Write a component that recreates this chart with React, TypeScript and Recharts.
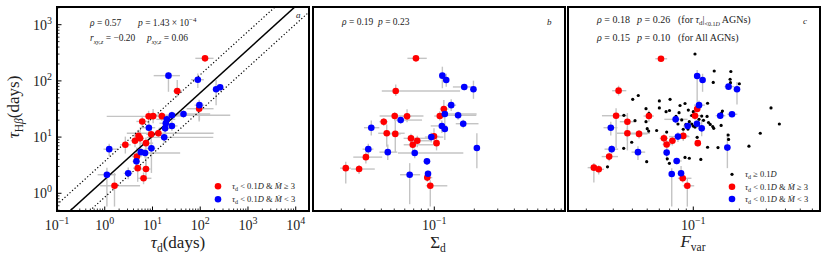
import React from "react";
import { ScatterChart, Scatter, XAxis, YAxis, ErrorBar } from "recharts";

const SERIF = "'Liberation Serif', 'DejaVu Serif', serif";
const RED = "#ff0000";
const BLUE = "#0000ff";
const ERR = "#c4c4c4";

// rows: [x, y, xLow, xHigh, yLow, yHigh]
const tauRed = [
  [126, 252, 47, 64, 20, 20],
  [33, 66, 6, 8, 14, 38],
  [95, 32, 43, 95, 13, 14],
  [6.1, 19, 1.5, 1.5, 4, 4],
  [8.3, 23.4, 7.2, 10, 5, 6],
  [10.3, 23.6, 2, 2, 6, 8],
  [15.7, 23.6, 6, 30, 4, 4],
  [9.4, 11.2, 2, 2, 6.7, 4],
  [13.3, 11.7, 10.4, 177, 2, 2],
  [2.7, 7.3, 0.6, 0.8, 2.2, 2.9],
  [4.3, 8.6, 0.8, 1, 2, 3],
  [5.1, 10.5, 1, 1.2, 2, 3],
  [5.5, 9.5, 1, 1.2, 3, 4],
  [7.3, 7.8, 2, 3, 5.2, 2],
  [4.7, 4.5, 1, 1, 1.5, 2],
  [4.9, 2.8, 1, 1, 1.2, 1.5],
  [7.3, 2.7, 1.5, 1.8, 0.8, 1],
  [6.5, 1.85, 1.5, 3, 0.4, 0.5],
  [1.6, 1.36, 0.8, 3.9, 0.78, 0.94],
];

const tauBlue = [
  [21.6, 124, 11, 16, 60, 20],
  [89, 105, 25, 30, 30, 30],
  [215, 71, 30, 40, 34, 33],
  [261, 77, 30, 40, 10, 10],
  [96, 37, 20, 25, 17, 6],
  [44.6, 25.8, 18, 117, 4, 4],
  [25.5, 24.4, 18, 400, 4, 4],
  [20, 20.7, 8, 10, 4, 4],
  [19, 17.6, 5, 6, 4, 5],
  [18.4, 14.3, 5, 6, 3, 4],
  [25.5, 15.8, 6, 8, 3, 4],
  [8.4, 14.7, 3, 3, 4, 5],
  [17.6, 9.9, 10, 170, 2, 2],
  [1.24, 6.1, 0.3, 0.6, 1.5, 1.5],
  [9.5, 6.3, 2, 2, 4, 1.5],
  [5.7, 5.4, 1, 1, 1, 1],
  [7.0, 5.2, 0.6, 31, 1, 1],
  [4.6, 3.7, 0.8, 0.8, 1, 1],
  [3.1, 2.27, 0.6, 0.7, 0.5, 0.6],
  [1.11, 2.14, 0.4, 0.6, 1.56, 0.7],
];

const sigmaRed = [
  [0.0728, 252, 0.01, 0.015, 20, 20],
  [0.0513, 66, 0.011, 0.105, 12, 20],
  [0.118, 31.6, 0.008, 0.01, 10, 14],
  [0.11, 23.7, 0.01, 0.01, 4, 5],
  [0.0504, 23.7, 0.0116, 0.0325, 4, 4],
  [0.0624, 23.4, 0.005, 0.005, 5, 8],
  [0.0417, 18.8, 0.003, 0.003, 3, 3],
  [0.0439, 11.7, 0.006, 0.016, 5, 5],
  [0.0509, 11.4, 0.005, 0.005, 6, 8],
  [0.0668, 9.5, 0.008, 0.03, 2, 2],
  [0.0745, 8.6, 0.01, 0.02, 2, 2],
  [0.0689, 7.3, 0.01, 0.03, 2, 2],
  [0.0995, 10.3, 0.005, 0.01, 3, 4],
  [0.104, 7.8, 0.005, 0.005, 2, 2],
  [0.0306, 4.4, 0.006, 0.01, 1, 1],
  [0.0216, 2.8, 0.002, 0.002, 1.3, 0.85],
  [0.0272, 2.7, 0.0035, 0.0085, 0.5, 0.5],
  [0.0886, 1.9, 0.004, 0.008, 0.3, 0.3],
  [0.0933, 1.36, 0.007, 0.032, 0.78, 0.34],
];

const sigmaBlue = [
  [0.115, 124, 0.005, 0.005, 50, 55],
  [0.123, 104, 0.005, 0.005, 25, 30],
  [0.168, 78, 0.03, 0.03, 10, 10],
  [0.197, 71, 0.008, 0.008, 23, 30],
  [0.134, 37, 0.01, 0.012, 8, 10],
  [0.12, 25.8, 0.0118, 0.088, 4, 4],
  [0.151, 24.4, 0.03, 0.056, 4, 4],
  [0.0559, 20.1, 0.006, 0.025, 3, 3],
  [0.165, 17.3, 0.02, 0.05, 3, 3],
  [0.0336, 14.7, 0.004, 0.005, 4, 5],
  [0.114, 15.8, 0.02, 0.01, 4, 4],
  [0.12, 13.9, 0.005, 0.005, 5, 8],
  [0.0949, 10.0, 0.01, 0.022, 2, 2],
  [0.0319, 6.1, 0.003, 0.003, 1.5, 1.5],
  [0.0447, 5.4, 0.006, 0.008, 1.5, 2],
  [0.0713, 5.2, 0.018, 0.094, 1, 1],
  [0.209, 6.4, 0.01, 0.01, 3.6, 5.3],
  [0.0881, 3.7, 0.005, 0.005, 0.5, 0.5],
  [0.0653, 2.14, 0.01, 0.013, 1.5, 1.3],
  [0.0897, 2.23, 0.004, 0.004, 0.3, 0.3],
];

const fvarRed = [
  [0.0615, 248, 0.005, 0.006, 20, 20],
  [0.0325, 67, 0.003, 0.004, 12, 15],
  [0.0313, 24, 0.006, 0.006, 17.7, 8.6],
  [0.0371, 18.8, 0.004, 0.004, 13, 8],
  [0.0371, 11.7, 0.0055, 0.015, 3, 3],
  [0.0442, 11.4, 0.006, 0.006, 2, 2],
  [0.0513, 23.7, 0.004, 0.004, 5, 6],
  [0.0643, 9.5, 0.004, 0.004, 2, 2],
  [0.067, 7.4, 0.004, 0.005, 1.5, 1.5],
  [0.073, 8.6, 0.004, 0.004, 1.5, 1.5],
  [0.086, 10.5, 0.006, 0.007, 2, 3],
  [0.1026, 24, 0.008, 0.01, 4, 6],
  [0.106, 31.6, 0.005, 0.006, 4, 4],
  [0.107, 7.8, 0.003, 0.003, 1, 1],
  [0.0282, 4.5, 0.003, 0.004, 0.8, 0.8],
  [0.0224, 2.86, 0.002, 0.002, 1.3, 0.6],
  [0.0241, 2.67, 0.002, 0.002, 0.5, 0.5],
  [0.0853, 1.85, 0.006, 0.012, 0.3, 0.3],
  [0.0914, 1.36, 0.006, 0.01, 0.78, 0.5],
];

const fvarBlue = [
  [0.106, 122, 0.004, 0.004, 80, 34],
  [0.115, 104, 0.004, 0.004, 40, 30],
  [0.17, 79, 0.01, 0.015, 10, 10],
  [0.193, 71, 0.005, 0.005, 33, 25],
  [0.109, 37, 0.008, 0.01, 8, 8],
  [0.15, 24, 0.01, 0.012, 3, 3],
  [0.179, 25.5, 0.012, 0.015, 3, 3],
  [0.0767, 20.7, 0.012, 0.015, 3, 3],
  [0.0919, 15.8, 0.006, 0.02, 2, 2],
  [0.1057, 17.3, 0.004, 0.004, 3, 3],
  [0.1135, 14.3, 0.004, 0.004, 4, 6],
  [0.0289, 14.7, 0.003, 0.003, 4, 4],
  [0.0794, 10.2, 0.01, 0.015, 2, 2],
  [0.0293, 6.1, 0.003, 0.003, 1, 1],
  [0.0435, 5.4, 0.004, 0.005, 1.5, 1.5],
  [0.067, 5.3, 0.003, 0.003, 1.5, 2],
  [0.167, 6.5, 0.005, 0.005, 3.7, 5.2],
  [0.0779, 3.76, 0.004, 0.006, 0.5, 0.5],
  [0.0723, 2.2, 0.003, 0.003, 1.62, 0.6],
  [0.0832, 2.27, 0.003, 0.003, 0.5, 0.8],
];

// tau_d >= 0.1D objects (no error bars): [x, y]
const fvarBlack = [
  [0.1026, 301], [0.137, 150], [0.176, 147], [0.135, 94], [0.174, 107],
  [0.175, 93], [0.2, 89], [0.0402, 47], [0.0437, 55], [0.06, 44],
  [0.0705, 47], [0.06, 33], [0.0664, 28.3], [0.0699, 29.7], [0.0819, 36.5],
  [0.0883, 39.6], [0.0491, 32], [0.0513, 26.5], [0.0352, 24.4], [0.0416, 19.6],
  [0.0491, 18.8], [0.05, 14.1], [0.0511, 12.8], [0.0576, 13.1], [0.067, 12.3],
  [0.0771, 23.3], [0.0807, 27.2], [0.0928, 30.3], [0.1, 28.3], [0.0977, 24.2],
  [0.084, 20.2], [0.0942, 18.8], [0.0977, 17.1], [0.1, 15.7], [0.1026, 15.1],
  [0.109, 20.7], [0.1135, 23.7], [0.1166, 19.9], [0.123, 23.3], [0.1257, 18.2],
  [0.129, 16.8], [0.134, 15.4], [0.136, 14.3], [0.152, 16.1], [0.155, 29.1],
  [0.153, 26.8], [0.124, 40], [0.322, 33], [0.365, 17.1], [0.274, 11.7],
  [0.231, 6.9], [0.169, 10.9], [0.17, 9.1], [0.145, 6.5], [0.124, 6.6],
  [0.0396, 8.1], [0.0351, 6.3], [0.0496, 3.65], [0.0676, 4.1], [0.0698, 3.42],
  [0.0765, 3.65], [0.0883, 4.34], [0.0942, 4.2], [0.112, 4.0], [0.0275, 2.96],
  [0.086, 13.8], [0.0923, 13.9], [0.0895, 16.8], [0.0794, 17.1], [0.106, 9.9],
];

// fit line (solid) and its scatter band (dotted), end points at x = 0.1 and 2e4
const fitX = [0.1, 20000];
const fitMidY = [0.3, 3650];
const fitUpY = [0.63, 7600];
const fitLowY = [0.145, 1750];

const Y_DOMAIN: [number, number] = [0.484, 2065];
const TAU_DOMAIN: [number, number] = [0.1, 18970];
const SIGMA_DOMAIN: [number, number] = [0.01225, 0.961];
const FVAR_DOMAIN: [number, number] = [0.01518, 0.673];

const toPoints = (rows: number[][]) =>
  rows.map(([x, y, xl, xh, yl, yh]) => ({ x, y, xe: [xl, xh], ye: [yl, yh] }));
const toLine = (xs: number[], ys: number[]) => xs.map((x, i) => ({ x, y: ys[i] }));

function logTicks([lo, hi]: [number, number]) {
  const out: number[] = [];
  for (let e = Math.floor(Math.log10(lo)); e <= Math.ceil(Math.log10(hi)); e++) {
    for (let m = 1; m < 10; m++) {
      const v = Number((m * Math.pow(10, e)).toPrecision(6));
      if (v >= lo && v <= hi) out.push(v);
    }
  }
  return out;
}

const isMajor = (v: number) => {
  const l = Math.log10(v);
  return Math.abs(l - Math.round(l)) < 1e-6;
};

const expLabel = (v: number) => {
  const e = Math.round(Math.log10(v));
  return e < 0 ? `\u2212${-e}` : `${e}`;
};

function makeTick(side: "bottom" | "top" | "left" | "right", labels: boolean) {
  return (props: any) => {
    const { x, y, payload } = props;
    const v = payload.value as number;
    const major = isMajor(v);
    const len = major ? 4.5 : 2.5;
    const s = { stroke: "#000", strokeWidth: major ? 1 : 0.8 };
    let mark;
    if (side === "bottom") mark = <line x1={x} y1={y} x2={x} y2={y - len} {...s} />;
    else if (side === "top") mark = <line x1={x} y1={y} x2={x} y2={y + len} {...s} />;
    else if (side === "left") mark = <line x1={x} y1={y} x2={x + len} y2={y} {...s} />;
    else mark = <line x1={x} y1={y} x2={x - len} y2={y} {...s} />;
    let label = null;
    if (labels && major && side === "bottom") {
      label = (
        <text x={x} y={y + 19} textAnchor="middle" fontFamily={SERIF} fontSize={14} fill="#222">
          10<tspan dy={-6} fontSize={10}>{expLabel(v)}</tspan>
        </text>
      );
    }
    if (labels && major && side === "left") {
      label = (
        <text x={x - 5} y={y + 5} textAnchor="end" fontFamily={SERIF} fontSize={14} fill="#222">
          10<tspan dy={-6} fontSize={10}>{expLabel(v)}</tspan>
        </text>
      );
    }
    return (
      <g>
        {mark}
        {label}
      </g>
    );
  };
}

const Blank = () => <g />;
const dot = (fill: string, r: number) => (p: any) => <circle cx={p.cx} cy={p.cy} r={r} fill={fill} />;

function Panel({
  left,
  width,
  margin,
  yWidth,
  xDomain,
  yLabels,
  anchor,
  children,
}: {
  left: number;
  width: number;
  margin: { top: number; right: number; bottom: number; left: number };
  yWidth: number;
  xDomain: [number, number];
  yLabels: boolean;
  anchor: any[];
  children: React.ReactNode;
}) {
  const xt = logTicks(xDomain);
  const yt = logTicks(Y_DOMAIN);
  return (
    <div style={{ position: "absolute", left, top: 0 }}>
      <ScatterChart width={width} height={260} margin={margin}>
        <XAxis
          dataKey="x"
          type="number"
          scale="log"
          domain={xDomain}
          allowDataOverflow
          ticks={xt}
          interval={0}
          height={49}
          tickSize={0}
          tickMargin={0}
          tickLine={false}
          axisLine={false}
          tick={makeTick("bottom", true)}
        />
        <XAxis
          xAxisId="top"
          dataKey="x"
          orientation="top"
          type="number"
          scale="log"
          domain={xDomain}
          allowDataOverflow
          ticks={xt}
          interval={0}
          height={0}
          tickSize={0}
          tickMargin={0}
          tickLine={false}
          axisLine={false}
          tick={makeTick("top", false)}
        />
        <YAxis
          dataKey="y"
          type="number"
          scale="log"
          domain={Y_DOMAIN}
          allowDataOverflow
          ticks={yt}
          interval={0}
          width={yWidth}
          tickSize={0}
          tickMargin={0}
          tickLine={false}
          axisLine={false}
          tick={makeTick("left", yLabels)}
        />
        <YAxis
          yAxisId="right"
          dataKey="y"
          orientation="right"
          type="number"
          scale="log"
          domain={Y_DOMAIN}
          allowDataOverflow
          ticks={yt}
          interval={0}
          width={0}
          tickSize={0}
          tickMargin={0}
          tickLine={false}
          axisLine={false}
          tick={makeTick("right", false)}
        />
        {/* invisible series that ties the top and right tick axes to the data */}
        <Scatter data={anchor} xAxisId="top" yAxisId="right" shape={Blank} isAnimationActive={false} />
        {children}
      </ScatterChart>
    </div>
  );
}

function errorSeries(data: any[]) {
  return (
    <Scatter data={data} shape={Blank} isAnimationActive={false}>
      <ErrorBar dataKey="xe" direction="x" width={0} stroke={ERR} strokeWidth={1.4} isAnimationActive={false} />
      <ErrorBar dataKey="ye" direction="y" width={0} stroke={ERR} strokeWidth={1.4} isAnimationActive={false} />
    </Scatter>
  );
}

function Overlay() {
  const t = { fontFamily: SERIF, fill: "#222" };
  const it = { fontStyle: "italic" as const };
  const frame = { fill: "none", stroke: "#000", strokeWidth: 2 };
  const legend = (rel: string) => (
    <>
      <tspan {...it}>τ</tspan>
      <tspan dy={2} fontSize={6}>d</tspan>
      <tspan dy={-2}> &lt; 0.1</tspan>
      <tspan {...it}>D</tspan>
      <tspan> &amp; </tspan>
      <tspan {...it}>Ṁ</tspan>
      <tspan> {rel} 3</tspan>
    </>
  );
  return (
    <svg width={830} height={260} style={{ position: "absolute", left: 0, top: 0, pointerEvents: "none" }}>
      <rect x={57} y={7} width={252} height={204} {...frame} />
      <rect x={313} y={7} width={252} height={204} {...frame} />
      <rect x={568} y={7} width={252} height={204} {...frame} />

      {/* panel a */}
      <text x={90} y={26} fontSize={9.5} {...t}>
        <tspan {...it}>ρ</tspan> = 0.57
      </text>
      <text x={138} y={26} fontSize={9.5} {...t}>
        <tspan {...it}>p</tspan> = 1.43 × 10<tspan dy={-4} fontSize={7}>−4</tspan>
      </text>
      <text x={90} y={41} fontSize={9.5} {...t}>
        <tspan {...it}>r</tspan>
        <tspan dy={2.5} fontSize={6.5} {...it}>xy,z</tspan>
        <tspan dy={-2.5}> = −0.20</tspan>
      </text>
      <text x={147} y={41} fontSize={9.5} {...t}>
        <tspan {...it}>p</tspan>
        <tspan dy={2.5} fontSize={6.5} {...it}>xy,z</tspan>
        <tspan dy={-2.5}> = 0.06</tspan>
      </text>
      <text x={296} y={18} fontSize={9} {...t} {...it}>a</text>
      <circle cx={218} cy={186.3} r={3.3} fill={RED} />
      <text x={232} y={189} fontSize={8.5} {...t}>{legend("≥")}</text>
      <circle cx={218} cy={199.3} r={3.3} fill={BLUE} />
      <text x={232} y={202} fontSize={8.5} {...t}>{legend("<")}</text>
      <text x={178} y={248} fontSize={17} textAnchor="middle" {...t}>
        <tspan {...it}>τ</tspan>
        <tspan dy={4} fontSize={11.5}>d</tspan>
        <tspan dy={-4}>(days)</tspan>
      </text>
      <text x={19} y={107} fontSize={17} textAnchor="middle" transform="rotate(-90 19 107)" {...t}>
        <tspan {...it}>τ</tspan>
        <tspan dy={4} fontSize={11.5}>H</tspan>
        <tspan fontSize={11.5} {...it}>β</tspan>
        <tspan dy={-4}>(days)</tspan>
      </text>

      {/* panel b */}
      <text x={342} y={25} fontSize={9.5} {...t}>
        <tspan {...it}>ρ</tspan> = 0.19
      </text>
      <text x={378} y={25} fontSize={9.5} {...t}>
        <tspan {...it}>p</tspan> = 0.23
      </text>
      <text x={547} y={25} fontSize={9} {...t} {...it}>b</text>
      <text x={438} y={248} fontSize={17} textAnchor="middle" {...t}>
        Σ<tspan dy={4} fontSize={11.5}>d</tspan>
      </text>

      {/* panel c */}
      <text x={597} y={23} fontSize={10} {...t}>
        <tspan {...it}>ρ</tspan> = 0.18
      </text>
      <text x={637} y={23} fontSize={10} {...t}>
        <tspan {...it}>p</tspan> = 0.26
      </text>
      <text x={678} y={23} fontSize={10} {...t}>
        (for <tspan {...it}>τ</tspan>
        <tspan dy={2} fontSize={7}>d</tspan>
        <tspan dy={-2}>|</tspan>
        <tspan dy={3} fontSize={6}>&lt;0.1</tspan>
        <tspan fontSize={6} {...it}>D</tspan>
        <tspan dy={-3}>  AGNs)</tspan>
      </text>
      <text x={597} y={41} fontSize={10} {...t}>
        <tspan {...it}>ρ</tspan> = 0.15
      </text>
      <text x={637} y={41} fontSize={10} {...t}>
        <tspan {...it}>p</tspan> = 0.10
      </text>
      <text x={678} y={41} fontSize={10} {...t}>
        (for All AGNs)
      </text>
      <text x={803} y={24} fontSize={9} {...t} {...it}>c</text>
      <circle cx={732} cy={174.3} r={1.6} fill="#000" />
      <text x={745} y={177} fontSize={8.5} {...t}>
        <tspan {...it}>τ</tspan>
        <tspan dy={2} fontSize={6}>d</tspan>
        <tspan dy={-2}> ≥ 0.1</tspan>
        <tspan {...it}>D</tspan>
      </text>
      <circle cx={732} cy={186.7} r={3.3} fill={RED} />
      <text x={745} y={190} fontSize={8.5} {...t}>{legend("≥")}</text>
      <circle cx={732} cy={199} r={3.3} fill={BLUE} />
      <text x={745} y={202} fontSize={8.5} {...t}>{legend("<")}</text>
      <text x={693} y={247} fontSize={17} textAnchor="middle" {...t}>
        <tspan {...it}>F</tspan>
        <tspan dy={4} fontSize={11.5}>var</tspan>
      </text>
    </svg>
  );
}

export default function App() {
  const aRed = toPoints(tauRed);
  const aBlue = toPoints(tauBlue);
  const bRed = toPoints(sigmaRed);
  const bBlue = toPoints(sigmaBlue);
  const cRed = toPoints(fvarRed);
  const cBlue = toPoints(fvarBlue);
  const cBlack = fvarBlack.map(([x, y]) => ({ x, y }));
  return (
    <div style={{ position: "absolute", left: 0, top: 0, width: 830, height: 260, background: "#fff" }}>
      <Panel left={0} width={320} margin={{ top: 7, right: 11, bottom: 0, left: 0 }} yWidth={57} xDomain={TAU_DOMAIN} yLabels anchor={aRed}>
        {errorSeries(aRed)}
        {errorSeries(aBlue)}
        <Scatter data={toLine(fitX, fitUpY)} shape={Blank} stroke="#000" line={{ stroke: "#000", strokeWidth: 1.2, strokeDasharray: "1.2 2.2" }} isAnimationActive={false} />
        <Scatter data={toLine(fitX, fitLowY)} shape={Blank} stroke="#000" line={{ stroke: "#000", strokeWidth: 1.2, strokeDasharray: "1.2 2.2" }} isAnimationActive={false} />
        <Scatter data={toLine(fitX, fitMidY)} shape={Blank} stroke="#000" line={{ stroke: "#000", strokeWidth: 1.5 }} isAnimationActive={false} />
        <Scatter data={aRed} shape={dot(RED, 3.3)} isAnimationActive={false} />
        <Scatter data={aBlue} shape={dot(BLUE, 3.3)} isAnimationActive={false} />
      </Panel>
      <Panel left={310} width={260} margin={{ top: 7, right: 5, bottom: 0, left: 3 }} yWidth={0} xDomain={SIGMA_DOMAIN} yLabels={false} anchor={bRed}>
        {errorSeries(bRed)}
        {errorSeries(bBlue)}
        <Scatter data={bRed} shape={dot(RED, 3.3)} isAnimationActive={false} />
        <Scatter data={bBlue} shape={dot(BLUE, 3.3)} isAnimationActive={false} />
      </Panel>
      <Panel left={565} width={265} margin={{ top: 7, right: 10, bottom: 0, left: 3 }} yWidth={0} xDomain={FVAR_DOMAIN} yLabels={false} anchor={cRed}>
        {errorSeries(cRed)}
        {errorSeries(cBlue)}
        <Scatter data={cBlack} shape={dot("#000", 1.6)} isAnimationActive={false} />
        <Scatter data={cRed} shape={dot(RED, 3.3)} isAnimationActive={false} />
        <Scatter data={cBlue} shape={dot(BLUE, 3.3)} isAnimationActive={false} />
      </Panel>
      <Overlay />
    </div>
  );
}
